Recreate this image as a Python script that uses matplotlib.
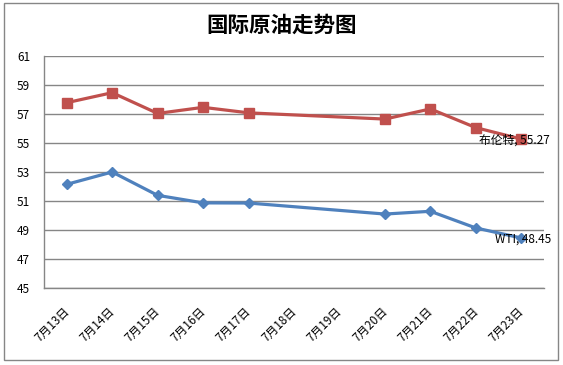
import numpy as np
import matplotlib
matplotlib.use("Agg")
import matplotlib.pyplot as plt
from matplotlib.patches import Rectangle
from matplotlib.transforms import ScaledTranslation

plt.rcParams['font.family'] = ['Noto Sans CJK SC', 'DejaVu Sans']

categories = ["7月13日", "7月14日", "7月15日", "7月16日", "7月17日", "7月18日",
              "7月19日", "7月20日", "7月21日", "7月22日", "7月23日"]
brent = [57.78, 58.47, 57.04, 57.46, 57.08, None, None, 56.65, 57.35, 56.06, 55.27]
wti = [52.15, 53.0, 51.39, 50.87, 50.86, None, None, 50.1, 50.29, 49.14, 48.45]
title = "国际原油走势图"
yticks = [45, 47, 49, 51, 53, 55, 57, 59, 61]

fig = plt.figure(figsize=(5.63, 3.65), dpi=100)
ax = fig.add_axes([44/563, 1-288/365, 500/563, 232/365])

def valid(series):
    xs = [i for i, v in enumerate(series) if v is not None]
    ys = [v for v in series if v is not None]
    return xs, ys

bx, by = valid(brent)
wx, wy = valid(wti)
ax.plot(bx, by, color='#C0504D', lw=2.3, marker='s', ms=7, zorder=3)
ax.plot(wx, wy, color='#4F81BD', lw=2.3, marker='D', ms=5.5, zorder=3)

ax.set_xlim(-0.5, len(categories) - 0.5)
ax.set_ylim(45, 61)
ax.set_yticks(yticks)
ax.set_yticklabels([str(t) for t in yticks], fontsize=8.5)
ax.set_xticks(range(len(categories)))
ax.set_xticklabels(categories, rotation=45, ha='right', rotation_mode='anchor', fontsize=8.5)
ax.tick_params(axis='both', length=0)
ax.tick_params(axis='y', pad=10)
ax.tick_params(axis='x', pad=12)
offset = ScaledTranslation(-4/100, 0, fig.dpi_scale_trans)
for lbl in ax.get_xticklabels():
    lbl.set_transform(lbl.get_transform() + offset)
ax.grid(axis='y', color='#868686', lw=1)
ax.set_axisbelow(True)
for s in ['top', 'right']:
    ax.spines[s].set_visible(False)
for s in ['left', 'bottom']:
    ax.spines[s].set_color('#868686')
    ax.spines[s].set_linewidth(1)

ax.text(bx[-1] - 0.15, by[-1] - 0.1, f"布伦特, {by[-1]:.2f}", ha='center', va='center', fontsize=8.5)
ax.text(wx[-1] + 0.05, wy[-1] - 0.1, f"WTI, {wy[-1]:.2f}", ha='center', va='center', fontsize=8.5)

fig.text(0.5, 1 - 25/365, title, ha='center', va='center', fontsize=15.5, fontweight='bold')

fig.patches.append(Rectangle((4/563, 5/365), 554/563, 357/365, transform=fig.transFigure,
                             fill=False, edgecolor='#868686', lw=1))

fig.savefig('out.png', dpi=100)
